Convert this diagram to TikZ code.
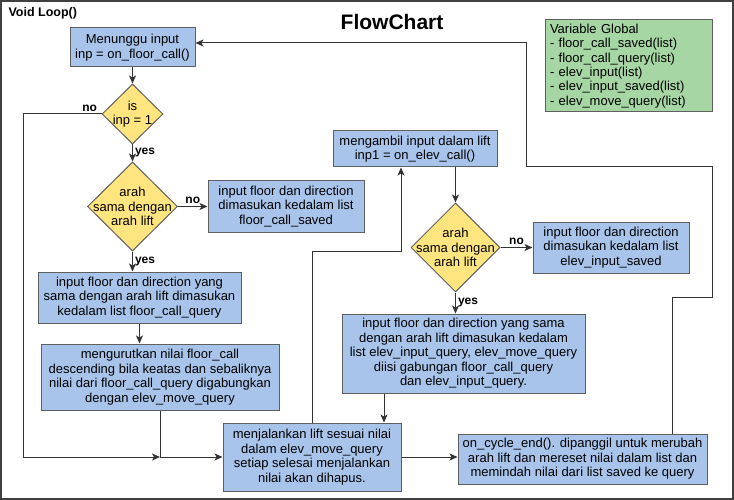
\documentclass[tikz,border=0pt]{standalone}
\usepackage{fontspec}
\setmainfont{Liberation Sans}
\usetikzlibrary{shapes.geometric,arrows.meta}

\definecolor{boxblue}{RGB}{169,196,235}
\definecolor{condyellow}{RGB}{255,229,128}
\definecolor{notegreen}{RGB}{166,214,164}
\definecolor{edgegray}{RGB}{95,95,95}

\tikzset{
    proc/.style={rectangle, draw=edgegray, line width=1pt, fill=boxblue, align=center,
        inner sep=2pt, font=\fontsize{13}{14.5}\selectfont},
    cond/.style={diamond, draw=edgegray, line width=1pt, fill=condyellow, inner sep=0pt},
    condtext/.style={align=center, font=\fontsize{13}{14.5}\selectfont},
    answer/.style={font=\bfseries\fontsize{12}{14}\selectfont, inner sep=2pt},
    flow/.style={draw=black!80, line width=1pt, ->},
    plainline/.style={draw=black!80, line width=1pt},
}

\begin{document}
\begin{tikzpicture}[x=1pt, y=-1pt, >={Stealth[length=8pt,width=7pt,inset=2pt]}]
    \useasboundingbox (0,0) rectangle (734,500);
    \draw[draw=black!75, line width=1.5pt] (1,1) rectangle (733,499);

    \node[anchor=west, font=\bfseries\fontsize{12.5}{14}\selectfont] (loopname) at (5,13) {Void Loop()};
    \node[font=\bfseries\fontsize{21}{24}\selectfont] (title) at (392,22) {FlowChart};

    \node[rectangle, draw=edgegray, line width=1pt, fill=notegreen, align=left, inner xsep=5pt,
        text width=157pt, minimum height=92pt, font=\fontsize{13}{14.3}\selectfont] (global) at (628.5,66)
        {Variable Global\\- floor\_call\_saved(list)\\- floor\_call\_query(list)\\- elev\_input(list)\\- elev\_input\_saved(list)\\- elev\_move\_query(list)};

    % floor call part
    \node[proc, minimum width=125pt, minimum height=39pt] (wait) at (132.5,47.5) {Menunggu input\\inp = on\_floor\_call()};
    \node[cond, minimum width=61pt, minimum height=60pt, label={[condtext]center:is\\inp = 1}] (isinp) at (132.5,114) {};
    \node[cond, minimum width=90pt, minimum height=89pt, label={[condtext]center:arah\\sama dengan\\arah lift}] (arah1) at (132.5,206.5) {};
    \node[proc, minimum width=156pt, minimum height=51pt] (saved1) at (286,206.5) {input floor dan direction\\dimasukan kedalam list\\floor\_call\_saved};
    \node[proc, minimum width=203pt, minimum height=51pt] (query1) at (139.5,297.5) {input floor dan direction yang\\sama dengan arah lift dimasukan\\kedalam list floor\_call\_query};
    \node[proc, minimum width=238pt, minimum height=66pt] (sort) at (160,377) {mengurutkan nilai floor\_call\\descending bila keatas dan sebaliknya\\nilai dari floor\_call\_query digabungkan\\dengan elev\_move\_query};
    \node[proc, minimum width=178pt, minimum height=68pt] (run) at (312,457) {menjalankan lift sesuai nilai\\dalam elev\_move\_query\\setiap selesai menjalankan\\nilai akan dihapus.};

    % elevator input part
    \node[proc, minimum width=164pt, minimum height=36pt] (take) at (415,149) {mengambil input dalam lift\\inp1 = on\_elev\_call()};
    \node[cond, minimum width=89pt, minimum height=89pt, label={[condtext]center:arah\\sama dengan\\arah lift}] (arah2) at (455.5,247.5) {};
    \node[proc, minimum width=156pt, minimum height=51pt] (saved2) at (611,247.5) {input floor dan direction\\dimasukan kedalam list\\elev\_input\_saved};
    \node[proc, minimum width=243pt, minimum height=79pt] (query2) at (463.5,353.5) {input floor dan direction yang sama\\dengan arah lift dimasukan kedalam\\list elev\_input\_query, elev\_move\_query\\diisi gabungan floor\_call\_query\\dan elev\_input\_query.};
    \node[proc, minimum width=249pt, minimum height=50pt] (cycle) at (582.5,459) {on\_cycle\_end(). dipanggil untuk merubah\\arah lift dan mereset nilai dalam list dan\\memindah nilai dari list saved ke query};

    \coordinate (nocorner) at (23,114);
    \coordinate (join1) at (160,457);
    \coordinate (up1) at (401,251);
    \coordinate (drop2) at (384,0);
    \coordinate (back1) at (672,297);
    \coordinate (back2) at (712,167);
    \coordinate (back3) at (526,43);

    \draw[flow] (wait.south) -- (isinp.north);
    \draw[flow] (isinp.west) -- node[answer, above, pos=0.15] {no} (nocorner) |- (join1);
    \draw[flow] (isinp.south) -- node[answer, right] {yes} (arah1.north);
    \draw[flow] (arah1.east) -- node[answer, above] {no} (saved1.west);
    \draw[flow] (arah1.south) -- node[answer, right] {yes} (arah1.south |- query1.north);
    \draw[flow] (query1.south) -- (query1.south |- sort.north);
    \draw[plainline] (sort.south) -- (join1);
    \draw[flow] (join1) -- (run.west);
    \draw[flow] (run.north) |- (up1) -- (up1 |- take.south);
    \draw[flow] (arah2 |- take.south) -- (arah2.north);
    \draw[flow] (arah2.east) -- node[answer, above] {no} (saved2.west);
    \draw[flow] (arah2.south) -- node[answer, right] {yes} (arah2.south |- query2.north);
    \draw[flow] (drop2 |- query2.south) -- (drop2 |- run.north);
    \draw[flow] (run.east) -- (run.east -| cycle.west);
    \draw[flow] (cycle.north -| back1) -- (back1) -| (back2) -| (back3) -- (back3 -| wait.east);
\end{tikzpicture}
\end{document}
